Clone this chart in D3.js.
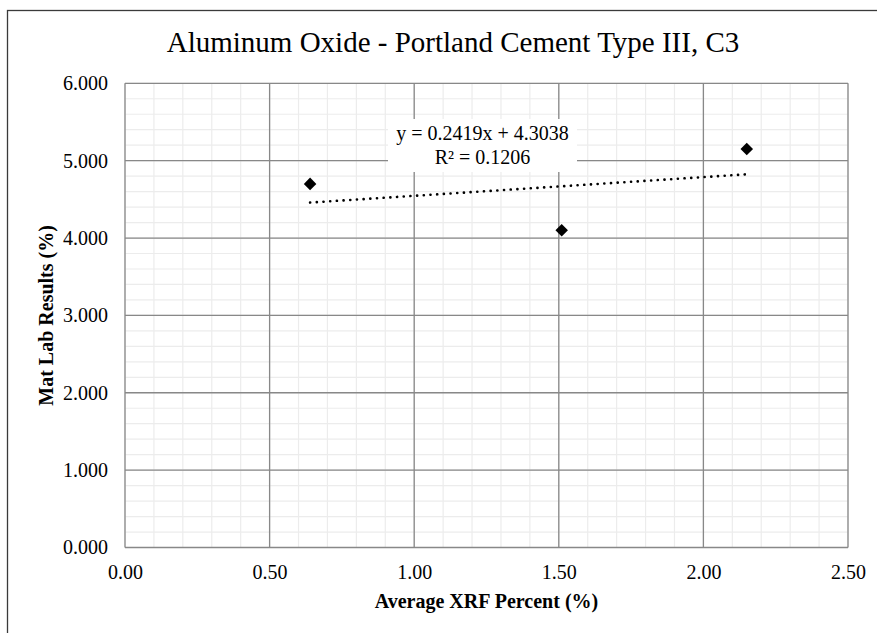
<!DOCTYPE html>
<html>
<head>
<meta charset="utf-8">
<script src="https://cdn.jsdelivr.net/npm/d3@7"></script>
<style>
html,body{margin:0;padding:0;background:#fff;}
svg{display:block;}
text{font-family:"Liberation Serif","Times New Roman",serif;fill:#000;}
</style>
</head>
<body>
<svg id="chart" width="877" height="633"></svg>
<script>
// ---- data ----
const xValues = [0.64, 1.51, 2.15];
const yValues = [4.70, 4.10, 5.15];
const xTicks = [0, 0.5, 1.0, 1.5, 2.0, 2.5];
const yTicks = [0, 1, 2, 3, 4, 5, 6];
const xMinorTicks = d3.range(0, 26).map(i => i / 10);
const yMinorTicks = d3.range(0, 31).map(i => i / 5);
const trendSlope = 0.2419;
const trendIntercept = 4.3038;
const rSquared = 0.1206;
const titleText = "Aluminum Oxide - Portland Cement Type III, C3";
const xAxisTitle = "Average XRF Percent (%)";
const yAxisTitle = "Mat Lab Results (%)";

const svg = d3.select("#chart");

// outer chart border (right/bottom extend off-canvas)
svg.append("rect").attr("x", 7.5).attr("y", 10.5).attr("width", 900).attr("height", 700)
  .attr("fill", "#fff").attr("stroke", "#3a3a3a").attr("stroke-width", 1.3);

const x = d3.scaleLinear().domain([0, 2.5]).range([125, 848]);
const y = d3.scaleLinear().domain([0, 6]).range([547.5, 83.3]);

// minor grid
const minor = svg.append("g");
minor.selectAll("line.vx").data(xMinorTicks).join("line")
  .attr("x1", d => x(d)).attr("x2", d => x(d)).attr("y1", y(0)).attr("y2", y(6))
  .attr("stroke", "#ececec").attr("stroke-width", 1.2);
minor.selectAll("line.hy").data(yMinorTicks).join("line")
  .attr("y1", d => y(d)).attr("y2", d => y(d)).attr("x1", x(0)).attr("x2", x(2.5))
  .attr("stroke", "#ececec").attr("stroke-width", 1.2);

// major grid
const major = svg.append("g");
major.selectAll("line.vx").data(xTicks).join("line")
  .attr("x1", d => x(d)).attr("x2", d => x(d)).attr("y1", y(0)).attr("y2", y(6))
  .attr("stroke", "#888").attr("stroke-width", 1.3);
major.selectAll("line.hy").data(yTicks).join("line")
  .attr("y1", d => y(d)).attr("y2", d => y(d)).attr("x1", x(0)).attr("x2", x(2.5))
  .attr("stroke", "#888").attr("stroke-width", 1.3);

// axes (labels only)
const xAxis = d3.axisBottom(x).tickValues(xTicks).tickFormat(d3.format(".2f")).tickSize(0).tickPadding(17);
const gx = svg.append("g").attr("transform", `translate(0,${y(0)})`).call(xAxis);
gx.select(".domain").remove();
gx.selectAll("text").style("font-family", "Liberation Serif").style("font-size", "20px").attr("fill", "#000");

const yAxis = d3.axisLeft(y).tickValues(yTicks).tickFormat(d3.format(".3f")).tickSize(0).tickPadding(17);
const gy = svg.append("g").attr("transform", `translate(${x(0)},0)`).call(yAxis);
gy.select(".domain").remove();
gy.selectAll("text").style("font-family", "Liberation Serif").style("font-size", "20px").attr("fill", "#000");

// trendline
const xMin = d3.min(xValues), xMax = d3.max(xValues);
svg.append("line")
  .attr("x1", x(xMin)).attr("y1", y(trendSlope * xMin + trendIntercept))
  .attr("x2", x(xMax)).attr("y2", y(trendSlope * xMax + trendIntercept))
  .attr("stroke", "#000").attr("stroke-width", 2.6)
  .attr("stroke-linecap", "round").attr("stroke-dasharray", "0.1,6.6");

// points
const pts = xValues.map((v, i) => [v, yValues[i]]);
svg.selectAll("path.pt").data(pts).join("path")
  .attr("d", d3.symbol(d3.symbolDiamond2 || d3.symbolDiamond, 100))
  .attr("transform", d => `translate(${x(d[0])},${y(d[1])})`)
  .attr("fill", "#000");

// equation label box
svg.append("rect").attr("x", 388).attr("y", 119).attr("width", 189).attr("height", 53).attr("fill", "#fff");
svg.append("text").attr("x", 482.5).attr("y", 140).attr("text-anchor", "middle").style("font-size", "20px")
  .text(`y = ${trendSlope}x + ${trendIntercept}`);
svg.append("text").attr("x", 482.5).attr("y", 164).attr("text-anchor", "middle").style("font-size", "20px")
  .text(`R² = ${rSquared}`);

// title
svg.append("text").attr("x", 453).attr("y", 52).attr("text-anchor", "middle").style("font-size", "29px")
  .text(titleText);

// axis titles
svg.append("text").attr("x", (x(0) + x(2.5)) / 2).attr("y", 608).attr("text-anchor", "middle")
  .style("font-size", "20px").style("font-weight", "bold").text(xAxisTitle);
svg.append("text").attr("transform", `translate(53,${(y(0) + y(6)) / 2}) rotate(-90)`).attr("text-anchor", "middle")
  .style("font-size", "20px").style("font-weight", "bold").text(yAxisTitle);
</script>
</body>
</html>
